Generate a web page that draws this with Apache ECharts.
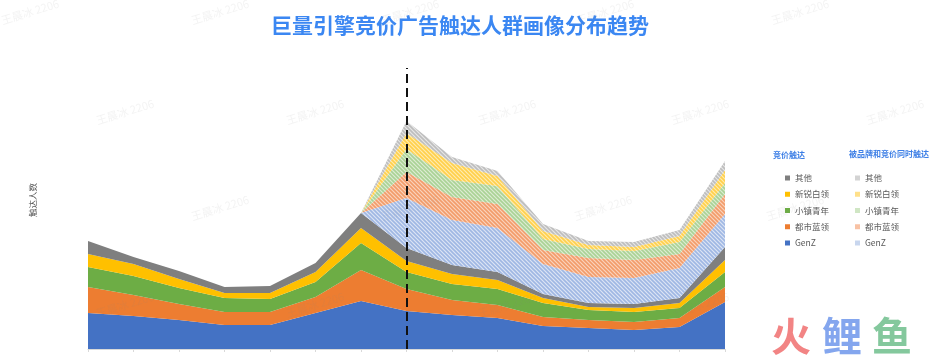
<!DOCTYPE html>
<html>
<head>
<meta charset="utf-8">
<script src="https://cdn.jsdelivr.net/npm/echarts@6/dist/echarts.min.js"></script>
<style>html,body{margin:0;padding:0;background:#fff}#c{width:938px;height:358px}</style>
</head>
<body>
<div id="c"></div>
<script>
// ---- data ----
const categories = ['1','2','3','4','5','6','7','8','9','10','11','12','13','14','15'];
const seriesNames = ['GenZ','都市蓝领','小镇青年','新锐白领','其他'];
// 竞价触达
const bidGenZ   = [36,33,29,24,24,36,48,38,34,31,23,21,19,22,47];
const bidBlue   = [26,21,16,13,13,16,31,22,15,13, 9, 8, 8, 9,15];
const bidTown   = [20,19,16,14,13,15,27,17,16,16,14,10,10,10,15];
const bidWhite  = [13,12, 9, 5, 6,10,15,11,10, 9, 5, 3, 4, 5,12];
const bidOther  = [13, 7, 8, 6, 7, 9,15,13, 9, 8, 4, 4, 4, 5,13];
// 被品牌和竞价同时触达
const bothGenZ  = [null,null,null,null,null,null,0,50,45,44,30,26,26,30,33];
const bothBlue  = [null,null,null,null,null,null,0,26,23,24,14,19,18,14,20];
const bothTown  = [null,null,null,null,null,null,0,23,17,18,11, 9, 9,12,11];
const bothWhite = [null,null,null,null,null,null,0,16,17,10, 8, 4, 4, 6,13];
const bothOther = [null,null,null,null,null,null,0,12, 6, 5, 7, 4, 5, 6, 9];
const markIndex = 7;
const yMax = 281;

const bidData = [bidGenZ, bidBlue, bidTown, bidWhite, bidOther];
const bothData = [bothGenZ, bothBlue, bothTown, bothWhite, bothOther];
const solidColors = ['#4472C4','#ED7D31','#6DAD45','#FFC000','#7F7F7F'];
const hatchBg = ['#DCE4F4','#FAD3BD','#DDECD4','#FFEBB0','#E6E6E6'];
const hatchFg = ['#9FB7E3','#F29C6A','#AAD295','#FFD04A','#BDBDBD'];
const hatchLegend = ['#C8D6EE','#F8C2A4','#D0E6C4','#FFE08A','#D3D3D3'];
const ZW = '\u200b';

function hatch(bg, fg) {
  const c = document.createElement('canvas');
  c.width = 4; c.height = 4;
  const ctx = c.getContext('2d');
  ctx.fillStyle = bg; ctx.fillRect(0, 0, 4, 4);
  ctx.strokeStyle = fg; ctx.lineWidth = 1.6;
  ctx.beginPath();
  ctx.moveTo(0, 0); ctx.lineTo(4, 4);
  ctx.moveTo(-2, 2); ctx.lineTo(2, 6);
  ctx.moveTo(2, -2); ctx.lineTo(6, 2);
  ctx.stroke();
  return { image: c, repeat: 'repeat' };
}

const series = [];
seriesNames.forEach((n, i) => {
  series.push({
    name: n, type: 'line', stack: 'total', data: bidData[i],
    symbol: 'none', lineStyle: { width: 0 }, itemStyle: { color: solidColors[i] },
    areaStyle: { color: solidColors[i], opacity: 1 }, z: 2
  });
});
seriesNames.forEach((n, i) => {
  series.push({
    name: n + ZW, type: 'line', stack: 'total', data: bothData[i],
    symbol: 'none', lineStyle: { width: 0 }, itemStyle: { color: hatchLegend[i] },
    areaStyle: { color: hatch(hatchBg[i], hatchFg[i]), opacity: 1 }, z: 2
  });
});
series[0].markLine = {
  silent: true, symbol: 'none', label: { show: false },
  lineStyle: { color: '#111', type: [9, 5], width: 2 },
  data: [{ xAxis: categories[markIndex] }], z: 10
};

const legendOrder = seriesNames.slice().reverse();
const legendText = { fontSize: 8.5, color: '#595959', lineHeight: 12, fontFamily: 'Noto Sans CJK SC' };

const graphics = [
  { type: 'text', left: 773, top: 151, style: { text: '竞价触达', fontSize: 8, fontWeight: 'bold', fill: '#3D7FE6', fontFamily: 'Noto Sans CJK SC' } },
  { type: 'text', left: 849, top: 150, style: { text: '被品牌和竞价同时触达', fontSize: 8, fontWeight: 'bold', fill: '#3D7FE6', fontFamily: 'Noto Sans CJK SC' } },
  { type: 'text', x: 33, y: 200, rotation: Math.PI / 2, style: { text: '触达人数', fontSize: 8.5, fill: '#595959', align: 'center', verticalAlign: 'middle', fontFamily: 'Noto Sans CJK SC' } },
  { type: 'text', x: 791, y: 336, z: 20, style: { text: '火', fontSize: 40, fontWeight: 'bold', fill: 'rgba(240,110,110,0.85)', align: 'center', verticalAlign: 'middle', fontFamily: 'Noto Sans CJK SC' } },
  { type: 'text', x: 842, y: 336, z: 20, style: { text: '鲤', fontSize: 40, fontWeight: 'bold', fill: 'rgba(110,150,235,0.85)', align: 'center', verticalAlign: 'middle', fontFamily: 'Noto Sans CJK SC' } },
  { type: 'text', x: 892, y: 336, z: 20, style: { text: '鱼', fontSize: 40, fontWeight: 'bold', fill: 'rgba(110,190,140,0.85)', align: 'center', verticalAlign: 'middle', fontFamily: 'Noto Sans CJK SC' } }
];
const wmRows = [
  { y: 12, xs: [30, 220, 410, 605, 800] },
  { y: 112, xs: [125, 315, 507, 700, 895] },
  { y: 208, xs: [220, 410, 603, 795] },
  { y: 305, xs: [125, 315, 507, 700] }
];
wmRows.forEach(r => r.xs.forEach(x => {
  graphics.push({ type: 'text', x: x, y: r.y, rotation: 0.3, z: 30, silent: true,
    style: { text: '王晨冰 2206', fontSize: 11, fill: 'rgba(140,140,140,0.10)', align: 'center', verticalAlign: 'middle', fontFamily: 'Noto Sans CJK SC' } });
}));

const chart = echarts.init(document.getElementById('c'), null, { renderer: 'canvas' });
chart.setOption({
  animation: false,
  backgroundColor: '#fff',
  title: {
    text: '巨量引擎竞价广告触达人群画像分布趋势',
    left: 266, top: 10,
    textStyle: { fontSize: 21, fontWeight: 'bold', color: '#3B87F2', fontFamily: 'Noto Sans CJK SC' }
  },
  grid: { left: 88, right: 213, top: 68, bottom: 9, containLabel: false },
  xAxis: {
    type: 'category', data: categories, boundaryGap: false,
    axisLine: { lineStyle: { color: '#D9D9D9' } },
    axisTick: { show: true, length: 3, lineStyle: { color: '#D9D9D9' } },
    axisLabel: { show: false }, splitLine: { show: false }
  },
  yAxis: {
    type: 'value', min: 0, max: yMax,
    axisLine: { show: false }, axisTick: { show: false },
    axisLabel: { show: false }, splitLine: { show: false }
  },
  legend: [
    {
      orient: 'vertical', left: 780, top: 167, itemWidth: 5, itemHeight: 5, itemGap: 4.25,
      icon: 'rect', textStyle: legendText, selectedMode: false,
      data: legendOrder
    },
    {
      orient: 'vertical', left: 850, top: 167, itemWidth: 5, itemHeight: 5, itemGap: 4.25,
      icon: 'rect', textStyle: legendText, selectedMode: false,
      formatter: n => n.replace(/\u200b/g, ''),
      data: legendOrder.map(n => ({ name: n + ZW, itemStyle: { color: hatchLegend[seriesNames.indexOf(n)] } }))
    }
  ],
  graphic: graphics,
  series: series
});
</script>
</body>
</html>
